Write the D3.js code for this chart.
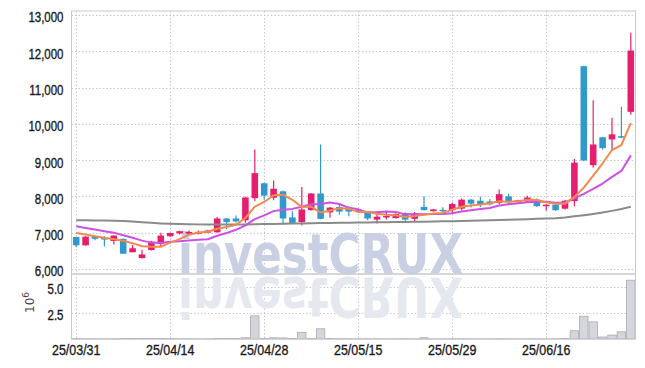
<!DOCTYPE html>
<html>
<head>
<meta charset="utf-8">
<script src="https://cdn.jsdelivr.net/npm/d3@7"></script>
<style>
  body { margin: 0; background: #fff; }
  .axis text { font-family: "Liberation Sans", Arial, sans-serif; font-size: 14px; fill: #1a1a1a; stroke: #1a1a1a; stroke-width: 0.35px; }
  .axis .domain { display: none; }
</style>
</head>
<body>
<svg id="chart" width="645" height="368"></svg>
<script>
"use strict";

// trading days, 25/03/31 .. 25/06/27
let dates = ["25/03/31","25/04/01","25/04/02","25/04/03","25/04/04","25/04/07","25/04/08","25/04/09","25/04/10","25/04/11",
    "25/04/14","25/04/15","25/04/16","25/04/17","25/04/18","25/04/21","25/04/22","25/04/23","25/04/24","25/04/25",
    "25/04/28","25/04/29","25/04/30","25/05/02","25/05/07","25/05/08","25/05/09","25/05/12","25/05/13","25/05/14",
    "25/05/15","25/05/16","25/05/19","25/05/20","25/05/21","25/05/22","25/05/23","25/05/26","25/05/27","25/05/28",
    "25/05/29","25/05/30","25/06/02","25/06/04","25/06/05","25/06/09","25/06/10","25/06/11","25/06/12","25/06/13",
    "25/06/16","25/06/17","25/06/18","25/06/19","25/06/20","25/06/23","25/06/24","25/06/25","25/06/26","25/06/27"];

let open = [6880,6650,6900,6860,6770,6830,6460,6300,6520,6690,
    6900,6980,6970,6970,7000,7010,7390,7390,7340,7950,
    8360,7960,8140,7420,7290,7620,8080,7560,7710,7650,
    7620,7590,7360,7420,7400,7540,7380,7710,7590,7630,
    7620,7660,7910,7880,7860,7820,8000,7840,7860,7910,
    7730,7770,7660,7870,11590,8860,9630,9570,9660,10330];
let high = [6890,6900,6920,6900,6930,6840,6660,6530,6780,7000,
    7000,7050,7060,7060,7080,7430,7400,7470,7990,9290,
    8380,8440,8160,7590,8260,8090,9430,7710,7780,7730,
    7640,7600,7590,7590,7530,7560,7570,8000,7650,7700,
    7830,7940,7930,7990,7930,8190,8070,7910,8020,7940,
    7780,7800,7900,9030,11600,10650,9640,10170,10470,12510];
let low = [6600,6640,6790,6620,6670,6420,6460,6290,6510,6620,
    6890,6950,6940,6950,6980,7000,7100,7280,7270,7870,
    7910,7890,7220,7260,7200,7610,7370,7410,7500,7450,
    7560,7340,7250,7360,7390,7310,7290,7610,7580,7560,
    7540,7610,7690,7710,7750,7780,7770,7830,7840,7710,
    7610,7600,7640,7730,8970,8790,9290,9250,9600,10260];
let close = [6650,6890,6830,6810,6920,6420,6570,6400,6750,6920,
    6990,7040,7020,7020,7060,7390,7290,7310,7970,8640,
    8020,8210,7390,7270,7640,8080,7380,7690,7580,7580,
    7600,7390,7440,7460,7520,7360,7500,7620,7640,7600,
    7790,7910,7800,7770,7780,8060,7840,7890,7970,7730,
    7770,7620,7880,8930,8990,9430,9330,9710,9620,12020];

// moving averages
let ma5 = [6990,6950,6900,6860,6820,6774,6710,6624,6612,6612,
    6726,6820,6944,7002,7026,7106,7156,7214,7404,7720,
    7846,8030,8046,7906,7706,7718,7552,7612,7674,7662,
    7566,7568,7518,7494,7482,7434,7456,7492,7528,7544,
    7630,7712,7748,7774,7810,7864,7850,7868,7908,7898,
    7840,7796,7794,7986,8238,8570,8912,9278,9416,10022];
let ma10 = [7175,7130,7085,7040,7000,6930,6860,6780,6725,6716,
    6750,6765,6784,6805,6819,6916,6988,7079,7201,7373,
    7476,7593,7630,7655,7713,7782,7791,7829,7790,7684,
    7642,7560,7565,7584,7572,7500,7512,7505,7511,7513,
    7532,7584,7620,7651,7677,7747,7781,7808,7841,7854,
    7852,7823,7831,7947,8068,8205,8354,8536,8701,9130];
let ma60 = [7340,7340,7338,7335,7330,7320,7305,7285,7270,7255,
    7245,7238,7232,7228,7224,7222,7222,7224,7227,7230,
    7235,7240,7246,7250,7255,7260,7264,7268,7272,7276,
    7280,7283,7286,7289,7292,7295,7299,7303,7307,7312,
    7316,7322,7328,7334,7340,7347,7355,7363,7372,7380,
    7388,7400,7420,7450,7480,7515,7555,7600,7650,7715];

// volume, millions
let volume = [0.04,0.03,0.03,0.02,0.03,0.05,0.04,0.04,0.05,0.06,
    0.04,0.03,0.03,0.02,0.03,0.05,0.04,0.04,0.12,2.24,
    0.06,0.12,0.10,0.05,0.63,0.05,0.99,0.04,0.03,0.03,
    0.03,0.03,0.03,0.02,0.02,0.03,0.02,0.12,0.02,0.02,
    0.03,0.03,0.02,0.02,0.02,0.03,0.02,0.02,0.02,0.02,
    0.02,0.03,0.04,0.80,2.20,1.66,0.19,0.38,0.70,5.70];

let priceTicks = [6000,7000,8000,9000,10000,11000,12000,13000];
let volTicks = [2.5,5.0];
let dateTicks = [0,10,20,30,40,50];

let upColor = "#e61e6e", downColor = "#3399cc";
let gridColor = "#c6c6d6", borderColor = "#c8c8d2";

let svg = d3.select("#chart");
let left = 71.5, right = 635.5;
let priceTop = 11, priceBottom = 274, volBottom = 339;

let idx = d3.range(dates.length);
let x = d3.scaleBand().domain(idx).range([left, right]).paddingInner(0.3).paddingOuter(0.15);
let xv = d3.scaleBand().domain(idx).range([left, right]).padding(0);
let cx = i => xv(i) + xv.bandwidth() / 2;
let y = d3.scaleLinear().domain([5860, 13110]).range([priceBottom, priceTop]);
let yv = d3.scaleLinear().domain([0, 6.3]).range([volBottom, priceBottom]);

// squeeze axis labels into a narrow face
function narrow(sel, k) {
    sel.selectAll("text").each(function() {
        let w = this.getComputedTextLength();
        d3.select(this).attr("textLength", w * k).attr("lengthAdjust", "spacingAndGlyphs");
    });
}

// grid
let grid = svg.append("g").attr("stroke", gridColor).attr("stroke-dasharray", "1.5,2").attr("stroke-width", 1);
grid.selectAll(".hp").data(priceTicks).enter().append("line")
    .attr("x1", left).attr("x2", right).attr("y1", d => Math.round(y(d)) + 0.5).attr("y2", d => Math.round(y(d)) + 0.5);
grid.selectAll(".hv").data(volTicks).enter().append("line")
    .attr("x1", left).attr("x2", right).attr("y1", d => Math.round(yv(d)) + 0.5).attr("y2", d => Math.round(yv(d)) + 0.5);
grid.selectAll(".vx").data(dateTicks).enter().append("line")
    .attr("x1", d => Math.round(cx(d)) + 0.5).attr("x2", d => Math.round(cx(d)) + 0.5)
    .attr("y1", priceTop).attr("y2", volBottom);

// watermark + reflection
let wm = svg.append("g").style("font-family", "'DejaVu Sans', sans-serif").style("font-weight", "bold");
wm.append("text").attr("x", 178).attr("y", 273).attr("font-size", 56)
    .attr("textLength", 285).attr("lengthAdjust", "spacingAndGlyphs")
    .attr("fill", "#c9d0e3").text("investCRUX");
wm.append("text").attr("x", 178).attr("y", 273).attr("font-size", 56)
    .attr("textLength", 285).attr("lengthAdjust", "spacingAndGlyphs")
    .attr("transform", "translate(0,551) scale(1,-1)")
    .attr("fill", "#e6e8f0").text("investCRUX");

// volume bars
svg.append("g").selectAll("rect").data(idx).enter().append("rect")
    .attr("x", i => xv(i) + 0.5)
    .attr("y", i => yv(volume[i]))
    .attr("width", xv.bandwidth() - 1)
    .attr("height", i => volBottom - yv(volume[i]))
    .attr("fill", "#d5d5dc").attr("stroke", "#a9a9b2").attr("stroke-width", 0.8);

// panel borders
svg.append("rect").attr("x", left).attr("y", priceTop).attr("width", right - left).attr("height", priceBottom - priceTop)
    .attr("fill", "none").attr("stroke", borderColor);
svg.append("rect").attr("x", left).attr("y", priceBottom).attr("width", right - left).attr("height", volBottom - priceBottom)
    .attr("fill", "none").attr("stroke", borderColor);

// candles
let candles = svg.append("g").selectAll("g").data(idx).enter().append("g");
candles.append("line")
    .attr("x1", i => cx(i)).attr("x2", i => cx(i))
    .attr("y1", i => y(high[i])).attr("y2", i => y(low[i]))
    .attr("stroke", i => close[i] >= open[i] ? upColor : downColor).attr("stroke-width", 1.2);
candles.append("rect")
    .attr("x", i => cx(i) - x.bandwidth() / 2)
    .attr("width", x.bandwidth())
    .attr("y", i => y(Math.max(open[i], close[i])))
    .attr("height", i => Math.max(1.5, Math.abs(y(open[i]) - y(close[i]))))
    .attr("fill", i => close[i] >= open[i] ? upColor : downColor);

// moving averages
let lines = [[ma60, "#8a8a8a"], [ma10, "#cc50e6"], [ma5, "#f08a4e"]];
lines.forEach(([arr, col]) => {
    svg.append("path").datum(idx)
        .attr("fill", "none").attr("stroke", col).attr("stroke-width", 2).attr("stroke-linejoin", "round")
        .attr("d", d3.line().x(i => cx(i)).y(i => y(arr[i])));
});

// axes
let ax = svg.append("g").attr("class", "axis").attr("transform", `translate(${left},0)`)
    .call(d3.axisLeft(y).tickValues(priceTicks).tickFormat(d3.format(",")).tickSize(0).tickPadding(8));
ax.selectAll("text").attr("dy", "0.5em");
narrow(ax, 0.82);
let axv = svg.append("g").attr("class", "axis").attr("transform", `translate(${left},0)`)
    .call(d3.axisLeft(yv).tickValues(volTicks).tickFormat(d3.format(".1f")).tickSize(0).tickPadding(8));
axv.selectAll("text").attr("dy", "0.45em");
narrow(axv, 0.82);

let axx = svg.append("g").attr("class", "axis").attr("transform", `translate(0,${volBottom})`)
    .call(d3.axisBottom(x).tickValues(dateTicks).tickFormat(i => dates[i]).tickSize(0).tickPadding(5));
axx.selectAll("text").style("font-size", "15px");
narrow(axx, 0.83);

// 10^6 unit label
let unit = svg.append("text").attr("transform", "translate(34,313) rotate(-90)")
    .style("font-family", "'DejaVu Sans', sans-serif").style("font-size", "12px").attr("fill", "#444");
unit.append("tspan").text("10");
unit.append("tspan").attr("dy", -5).style("font-size", "9px").text("6");
</script>
</body>
</html>
